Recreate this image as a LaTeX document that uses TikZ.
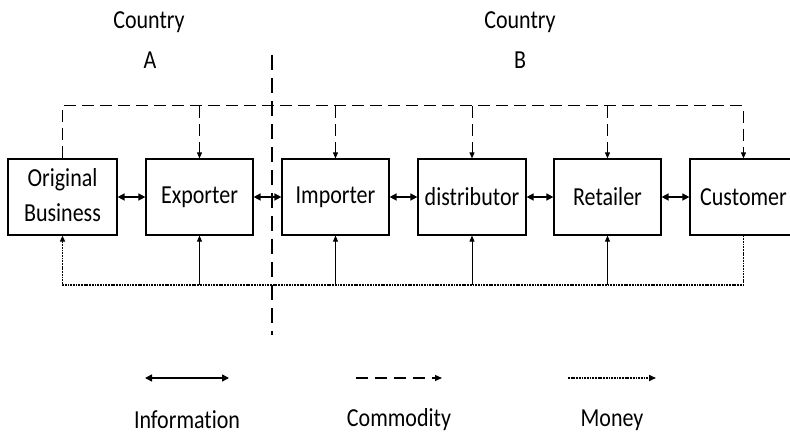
\documentclass[tikz,border=0pt]{standalone}
\usepackage{fontspec}
\setmainfont[Ligatures={NoCommon,NoContextual}]{Carlito}
\usetikzlibrary{arrows.meta}
% text is set slightly taller than wide
\newcommand\vtxt[1]{\scalebox{1}[1.18]{#1}}

\begin{document}
\begin{tikzpicture}[x=1pt,y=-1pt,
  lbl/.style={font=\fontsize{22}{30}\selectfont, inner sep=0pt},
  actor/.style={draw, line width=1.2pt, minimum width=107pt, minimum height=76pt,
    inner sep=0pt, font=\fontsize{22}{30}\selectfont, align=center},
  info/.style={line width=1.5pt, {Triangle[length=7pt,width=7pt]}-{Triangle[length=7pt,width=7pt]}},
  goods/.style={line width=1pt, dash pattern=on 12pt off 6pt},
  goodsdrop/.style={goods, -{Triangle[length=6pt,width=5pt]}},
  cash/.style={line width=1.6pt, dash pattern=on 1.8pt off 0.9pt},
  cashup/.style={line width=0.8pt, -{Triangle[length=6pt,width=5pt]}},
  border/.style={line width=1.6pt, dash pattern=on 15pt off 8pt},
]
\useasboundingbox (0,0) rectangle (790,438);

% country headings
\node[lbl] (ctyA)  at (149,22) {\vtxt{Country}};
\node[lbl] (ctyAl) at (150,60) {\vtxt{A}};
\node[lbl] (ctyB)  at (520,22) {\vtxt{Country}};
\node[lbl] (ctyBl) at (520,60) {\vtxt{B}};

% border between the two countries
\coordinate (sepT) at (272,55);
\coordinate (sepB) at (272,335);
\draw[border] (sepT) -- (sepB);

% supply chain actors
\node[actor, minimum width=109pt] (orig) at (62.5,197)
  {\vtxt{\begin{tabular}{@{}c@{}}Original\\Business\end{tabular}}};
\node[actor] (exp)  at (199.5,197) {\vtxt{Exporter}};
\node[actor] (imp)  at (335.5,197) {\vtxt{Importer}};
\node[actor, minimum width=108pt] (dist) at (472,197) {\vtxt{distributor}};
\node[actor] (ret)  at (607.5,197) {\vtxt{Retailer}};
\node[actor] (cust) at (743.5,197) {\vtxt{Customer}};

% information flow
\draw[info] (orig.east) -- (exp.west);
\draw[info] (exp.east)  -- (imp.west);
\draw[info] (imp.east)  -- (dist.west);
\draw[info] (dist.east) -- (ret.west);
\draw[info] (ret.east)  -- (cust.west);

% commodity flow along the top
\coordinate (top) at (0,106);
\draw[goodsdrop] (orig.north) -- (orig.north |- top) -- (cust.north |- top) -- (cust.north);
\draw[goodsdrop] (exp.north |- top)  -- (exp.north);
\draw[goodsdrop] (imp.north |- top)  -- (imp.north);
\draw[goodsdrop] (dist.north |- top) -- (dist.north);
\draw[goodsdrop] (ret.north |- top)  -- (ret.north);

% money flow along the bottom
\coordinate (bot) at (0,285);
\draw[cash, -{Triangle[length=6pt,width=5pt]}] (cust.south) -- (cust.south |- bot) -- (orig.south |- bot) -- (orig.south);
\draw[cashup] (exp.south |- bot)  -- (exp.south);
\draw[cashup] (imp.south |- bot)  -- (imp.south);
\draw[cashup] (dist.south |- bot) -- (dist.south);
\draw[cashup] (ret.south |- bot)  -- (ret.south);

% legend
\coordinate (infoL)  at (145,378);
\coordinate (infoR)  at (229,378);
\coordinate (goodsL) at (356,378);
\coordinate (goodsR) at (442,378);
\coordinate (cashL)  at (568,378);
\coordinate (cashR)  at (656,378);
\draw[info] (infoL) -- (infoR);
\draw[line width=1.2pt, dash pattern=on 12pt off 7pt, -{Triangle[length=7pt,width=6pt]}] (goodsL) -- (goodsR);
\draw[cash, -{Triangle[length=7pt,width=6pt]}] (cashL) -- (cashR);
\node[lbl] (infoT)  at (187,420) {\vtxt{Informat\kern0pt ion}};
\node[lbl] (goodsT) at (399,420) {\vtxt{Commodity}};
\node[lbl] (cashT)  at (612,420) {\vtxt{Money}};
\end{tikzpicture}
\end{document}
